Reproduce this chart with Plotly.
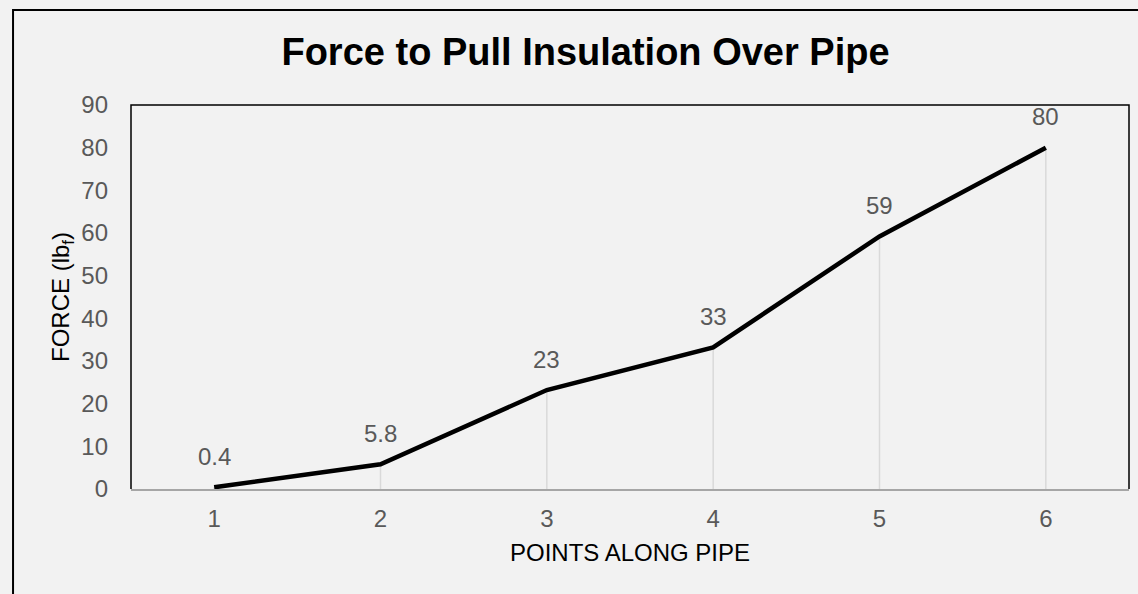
import plotly.graph_objects as go

points = ["1", "2", "3", "4", "5", "6"]
force = [0.4, 5.8, 23.2, 33.2, 59.2, 80.0]
labels = ["0.4", "5.8", "23", "33", "59", "80"]
y_ticks = [0, 10, 20, 30, 40, 50, 60, 70, 80, 90]

FONT = "Liberation Sans, Arial, sans-serif"
GREY = "#595959"

# drop lines from each point to the axis
dx, dy = [], []
for p, v in zip(points, force):
    dx += [p, p, None]
    dy += [0, v, None]

fig = go.Figure()
fig.add_trace(go.Scatter(x=dx, y=dy, mode="lines",
                         line=dict(color="#d9d9d9", width=1.5),
                         hoverinfo="skip", showlegend=False))
fig.add_trace(go.Scatter(x=points, y=force, mode="lines",
                         line=dict(color="black", width=4.5),
                         showlegend=False))

# data labels (category axis: annotation x given as category index)
for i, (v, t) in enumerate(zip(force, labels)):
    fig.add_annotation(x=i, y=v, text=t, showarrow=False, yshift=31,
                       font=dict(family=FONT, size=24, color=GREY))

fig.update_layout(
    width=1138, height=594,
    margin=dict(l=131, r=9, t=105, b=105),
    paper_bgcolor="#f2f2f2", plot_bgcolor="#f2f2f2",
    font=dict(family=FONT, size=24, color=GREY),
    title=dict(text="<b>Force to Pull Insulation Over Pipe</b>",
               x=0.5145, xanchor="center", y=0.913, yanchor="middle",
               xref="container", yref="container",
               font=dict(family=FONT, size=38, color="black")),
    xaxis=dict(type="category", range=[-0.5, 5.5], showgrid=False,
               showline=True, linecolor="#a6a6a6", linewidth=1.5,
               ticks="", ticklabelstandoff=7,
               tickfont=dict(family=FONT, size=24, color=GREY),
               title=dict(text="POINTS ALONG PIPE", standoff=14,
                          font=dict(family=FONT, size=24, color="black"))),
    yaxis=dict(range=[0, 90], tickvals=y_ticks, showgrid=False,
               zeroline=False, showline=False, ticks="",
               ticklabelstandoff=22,
               tickfont=dict(family=FONT, size=24, color=GREY),
               title=dict(text="FORCE (lb<sub>f</sub>)", standoff=4,
                          font=dict(family=FONT, size=24, color="black"))),
    shapes=[
        # plot-area frame: left, top and right sides
        dict(type="path", xref="paper", yref="paper",
             path="M0,0 L0,1 L1,1 L1,0",
             line=dict(color="black", width=1.5), layer="below"),
        # outer chart border
        dict(type="rect", xref="paper", yref="paper", x0=-0.1182, x1=1.2,
             y0=-0.6, y1=1.2474, line=dict(color="black", width=2),
             layer="below"),
    ],
)

fig.write_html(
    "out.html",
    config={"displayModeBar": False},
    post_script="document.body.style.margin='0';"
                "document.body.style.background='#f2f2f2';",
)
